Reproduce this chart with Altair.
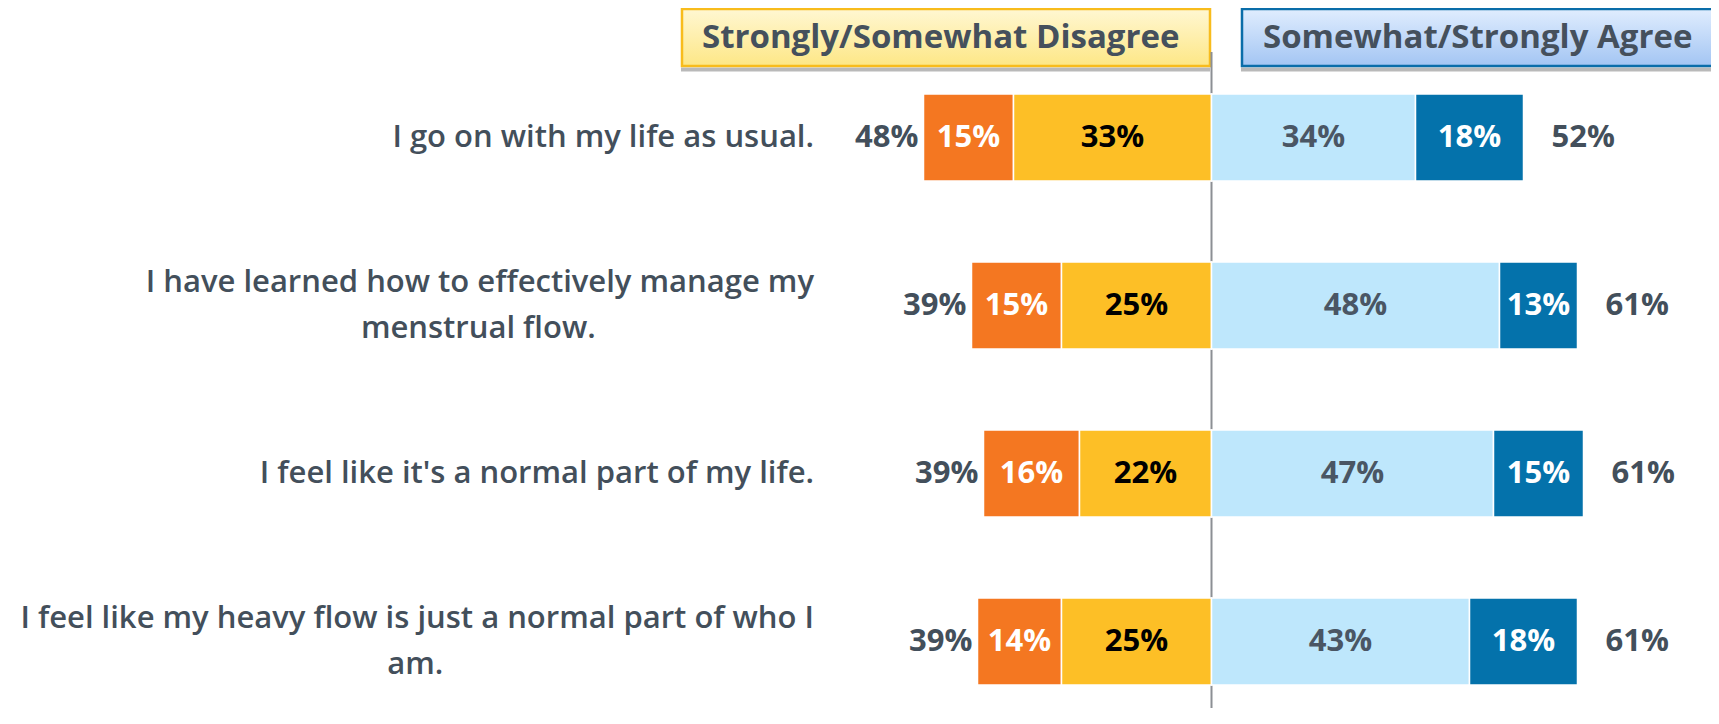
import altair as alt
import pandas as pd

# ---------------- data ----------------
category_lines = [
    ["I go on with my life as usual."],
    ["I have learned how to effectively manage my", "menstrual flow."],
    ["I feel like it's a normal part of my life."],
    ["I feel like my heavy flow is just a normal part of who I", "am."],
]
strongly_disagree = [15, 15, 16, 14]
somewhat_disagree = [33, 25, 22, 25]
somewhat_agree = [34, 48, 47, 43]
strongly_agree = [18, 13, 15, 18]
total_disagree = [48, 39, 39, 39]
total_agree = [52, 61, 61, 61]

segments = ["Strongly Disagree", "Somewhat Disagree", "Somewhat Agree", "Strongly Agree"]
seg_colors = ["#F47721", "#FDBF26", "#BEE7FC", "#0472AB"]
seg_text_colors = ["#FFFFFF", "#000000", "#4A5664", "#FFFFFF"]
header_left = "Strongly/Somewhat Disagree"
header_right = "Somewhat/Strongly Agree"

# ---------------- layout ----------------
W, H = 1703, 700
K = 6.0              # pixels per percentage point
CENTER_PX = 1203.5
ROW0_PX, ROW_GAP = 129.5, 168
BAR_PX = 87
FONT = "Open Sans"
TXT = "#434F5B"


def px_x(p):
    return (p - CENTER_PX) / K


def px_y(p):
    return (p - ROW0_PX) / ROW_GAP


x_dom = [px_x(0), px_x(W)]
y_dom = [px_y(0), px_y(H)]
xs = alt.Scale(domain=x_dom, nice=False, zero=False)
ys = alt.Scale(domain=y_dom, reverse=True, nice=False, zero=False)

# approximate advance widths (em) for Open Sans SemiBold
_w = {" ": .27, "a": .58, "b": .64, "c": .50, "d": .64, "e": .58, "f": .36, "g": .57,
      "h": .64, "i": .27, "j": .27, "k": .56, "l": .27, "m": .97, "n": .64, "o": .63,
      "p": .64, "r": .43, "s": .50, "t": .37, "u": .64, "v": .53, "w": .81, "y": .53,
      "I": .29, ".": .28, "'": .19}


def text_px(s, size):
    return sum(_w.get(c, .58) for c in s) * size


LABEL_SIZE = 31
VALUE_SIZE = 31
LABEL_ANCHOR = px_x(806)
LINE_OFF = 23 / ROW_GAP

# ---------------- tables ----------------
seg_rows, tot_rows, lab1, lab2 = [], [], [], []
for i in range(4):
    sd, wd, wa, sa = strongly_disagree[i], somewhat_disagree[i], somewhat_agree[i], strongly_agree[i]
    spans = [(-(sd + wd), -wd, sd), (-wd, 0, wd), (0, wa, wa), (wa, wa + sa, sa)]
    for j, (a, b, v) in enumerate(spans):
        seg_rows.append({"row": i, "x0": a, "x1": b, "mid": (a + b) / 2,
                         "y0": i - BAR_PX / 2 / ROW_GAP, "y1": i + BAR_PX / 2 / ROW_GAP,
                         "seg": segments[j], "tcol": seg_text_colors[j], "label": f"{v}%"})
    tot_rows.append({"row": i, "xl": -(sd + wd), "tl": f"{total_disagree[i]}%",
                     "xr": wa + sa, "tr": f"{total_agree[i]}%"})
    lines = category_lines[i]
    if len(lines) == 1:
        lab1.append({"y": i, "x": LABEL_ANCHOR, "text": lines[0]})
    else:
        lab1.append({"y": i - LINE_OFF, "x": LABEL_ANCHOR, "text": lines[0]})
        w1 = text_px(lines[0], LABEL_SIZE)
        lab2.append({"y": i + LINE_OFF, "x": LABEL_ANCHOR - w1 / 2 / K, "text": lines[1]})

df_seg = pd.DataFrame(seg_rows)
df_tot = pd.DataFrame(tot_rows)
df_lab1 = pd.DataFrame(lab1)
df_lab2 = pd.DataFrame(lab2)

# ---------------- header ----------------
box_y0, box_y1 = px_y(1), px_y(58)
df_hl = pd.DataFrame([{"x0": px_x(674), "x1": px_x(1202), "y0": box_y0, "y1": box_y1}])
df_hr = pd.DataFrame([{"x0": px_x(1234), "x1": x_dom[1] + 5, "y0": box_y0, "y1": box_y1}])
df_shadow = pd.DataFrame([
    {"x0": px_x(673), "x1": px_x(1202), "y0": px_y(59.5), "y1": px_y(63.5)},
    {"x0": px_x(1233), "x1": x_dom[1] + 5, "y0": px_y(59.5), "y1": px_y(63.5)},
])
df_htxt = pd.DataFrame([
    {"x": px_x(694), "y": px_y(30), "text": header_left},
    {"x": px_x(1255), "y": px_y(30), "text": header_right},
])
df_rule = pd.DataFrame([{"x": 0, "y": px_y(44), "y2": y_dom[1]}])


def grad(c0, c1):
    return alt.LinearGradient(gradient="linear", x1=0, x2=0, y1=0, y2=1,
                              stops=[alt.GradientStop(color=c0, offset=0),
                                     alt.GradientStop(color=c1, offset=1)])


def rect_enc(ch):
    return ch.encode(x=alt.X("x0:Q", scale=xs, axis=None), x2="x1",
                     y=alt.Y("y0:Q", scale=ys, axis=None), y2="y1")


shadow = rect_enc(alt.Chart(df_shadow).mark_rect(fill="#B9B9B9"))
box_l = rect_enc(alt.Chart(df_hl).mark_rect(fill=grad("#FFF7D2", "#FDE786"),
                                             stroke="#F8BC1C", strokeWidth=2.5))
box_r = rect_enc(alt.Chart(df_hr).mark_rect(fill=grad("#E0EDFE", "#A3C5F3"),
                                             stroke="#0A6DA9", strokeWidth=2.5))
head_txt = alt.Chart(df_htxt).mark_text(font=FONT, fontSize=33, fontWeight="bold",
                                        align="left", color="#45505C").encode(
    x=alt.X("x:Q", scale=xs, axis=None), y=alt.Y("y:Q", scale=ys, axis=None), text="text:N")

rule = alt.Chart(df_rule).mark_rule(color="#8C8F94", strokeWidth=2).encode(
    x=alt.X("x:Q", scale=xs, axis=None), y=alt.Y("y:Q", scale=ys, axis=None), y2="y2")

bars = alt.Chart(df_seg).mark_rect(stroke="white", strokeWidth=1.5).encode(
    x=alt.X("x0:Q", scale=xs, axis=None), x2="x1",
    y=alt.Y("y0:Q", scale=ys, axis=None), y2="y1",
    color=alt.Color("seg:N", scale=alt.Scale(domain=segments, range=seg_colors), legend=None),
)
bar_txt = alt.Chart(df_seg).mark_text(font=FONT, fontSize=VALUE_SIZE, fontWeight="bold").encode(
    x=alt.X("mid:Q", scale=xs, axis=None), y=alt.Y("row:Q", scale=ys, axis=None),
    color=alt.Color("tcol:N", scale=None), text="label:N")

tot_l = alt.Chart(df_tot).mark_text(font=FONT, fontSize=VALUE_SIZE, fontWeight="bold",
                                    align="right", dx=-5, color=TXT).encode(
    x=alt.X("xl:Q", scale=xs, axis=None), y=alt.Y("row:Q", scale=ys, axis=None), text="tl:N")
tot_r = alt.Chart(df_tot).mark_text(font=FONT, fontSize=VALUE_SIZE, fontWeight="bold",
                                    align="left", dx=28, color=TXT).encode(
    x=alt.X("xr:Q", scale=xs, axis=None), y=alt.Y("row:Q", scale=ys, axis=None), text="tr:N")

lab_a = alt.Chart(df_lab1).mark_text(font=FONT, fontSize=LABEL_SIZE, fontWeight=600,
                                     align="right", color=TXT).encode(
    x=alt.X("x:Q", scale=xs, axis=None), y=alt.Y("y:Q", scale=ys, axis=None), text="text:N")
lab_b = alt.Chart(df_lab2).mark_text(font=FONT, fontSize=LABEL_SIZE, fontWeight=600,
                                     align="center", color=TXT).encode(
    x=alt.X("x:Q", scale=xs, axis=None), y=alt.Y("y:Q", scale=ys, axis=None), text="text:N")

chart = alt.layer(
    shadow, box_l, box_r, head_txt, rule, bars, bar_txt, tot_l, tot_r, lab_a, lab_b
).properties(
    width=W, height=H, padding=0, autosize=alt.AutoSizeParams(type="none")
).configure_view(stroke=None)

chart.save("out.html", embed_options={"renderer": "svg", "actions": False})
